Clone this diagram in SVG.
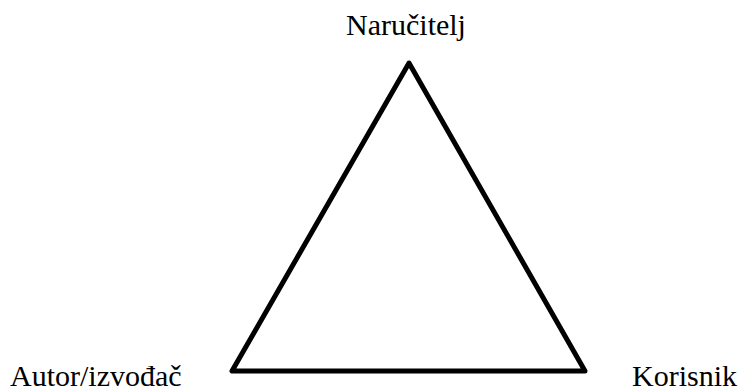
<svg xmlns="http://www.w3.org/2000/svg" width="741" height="392" viewBox="0 0 741 392">
<rect width="741" height="392" fill="#fff"/>
<g id="connectors">
<path d="M409 63 L232 371 L585 371 Z" fill="none" stroke="#000" stroke-width="5" stroke-linejoin="round" stroke-linecap="round"/>
</g>
<text id="narucitelj" x="406" y="35" text-anchor="middle" font-family="Liberation Serif" font-size="30">Naručitelj</text>
<text id="autor" x="10" y="386" font-family="Liberation Serif" font-size="30">Autor/izvođač</text>
<text id="korisnik" x="632" y="386" font-family="Liberation Serif" font-size="30">Korisnik</text>
</svg>
